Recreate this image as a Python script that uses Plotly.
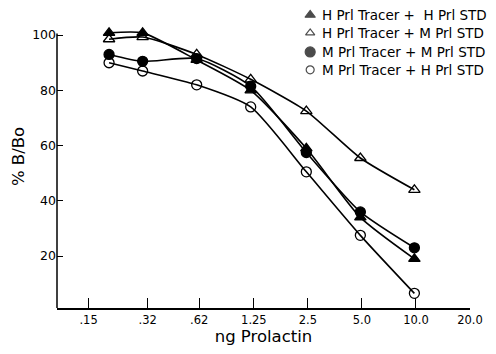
import plotly.graph_objects as go

dose = [0.195, 0.30, 0.60, 1.2, 2.45, 4.9, 9.8]
hh = [100.8, 100.8, 91, 80, 59, 34, 19]
hm = [98.5, 99.3, 93, 84, 72.5, 55.5, 44]
mm = [93, 90.5, 91.5, 81.5, 57.5, 36, 23]
mh = [90, 87, 82, 74, 50.5, 27.5, 6.5]

names = ["H Prl Tracer +  H Prl STD", "H Prl Tracer + M Prl STD",
         "M Prl Tracer + M Prl STD", "M Prl Tracer + H Prl STD"]
series = [hh, hm, mm, mh]
symbols = ["triangle-up", "triangle-up-open", "circle", "circle-open"]

tick_vals = [0.15, 0.32, 0.62, 1.25, 2.5, 5.0, 10.0, 20.0]
tick_text = [".15", ".32", ".62", "1.25", "2.5", "5.0", "10.0", "20.0"]
ytick_vals = [20, 40, 60, 80, 100]

# legend layout (fractions of the plot area)
leg_rows = [0.967, 0.908, 0.845, 0.786]
leg_mark_x = 0.613
leg_text_x = 0.636

fig = go.Figure()
for ys, sym in zip(series, symbols):
    fig.add_trace(go.Scatter(
        x=dose, y=ys, mode="lines+markers",
        line=dict(color="black", width=1.6, shape="spline", smoothing=0.6),
        marker=dict(symbol=sym, size=10, color="black",
                    line=dict(color="black", width=1.3)),
        showlegend=False, cliponaxis=False))

fig.add_trace(go.Scatter(
    x=[leg_mark_x] * 4, y=leg_rows, mode="markers",
    xaxis="x2", yaxis="y2",
    marker=dict(symbol=symbols, size=[9, 8, 10, 8], color="black",
                line=dict(color="black", width=1.2)),
    showlegend=False, cliponaxis=False, hoverinfo="skip"))

for nm, yy in zip(names, leg_rows):
    fig.add_annotation(x=leg_text_x, y=yy, xref="paper", yref="paper",
                       text=nm, showarrow=False, xanchor="left", yanchor="middle",
                       font=dict(size=13.5))

# y axis line only up to 100
fig.add_shape(type="line", xref="paper", x0=0, x1=0, yref="y", y0=1.2, y1=100.6,
              line=dict(color="black", width=1.5))

fig.update_layout(
    width=496, height=354,
    margin=dict(l=57, r=26, t=5, b=46),
    paper_bgcolor="white", plot_bgcolor="white",
    font=dict(family="DejaVu Sans, sans-serif", color="black", size=12),
    showlegend=False,
    xaxis=dict(type="log", range=[-1, 1.30103], tickvals=tick_vals,
               ticktext=tick_text, ticks="inside", ticklen=10, tickwidth=1.3,
               tickcolor="black", showline=True, linecolor="black", linewidth=1.5,
               showgrid=False, zeroline=False, tickfont=dict(size=11.5),
               title=dict(text="ng Prolactin", font=dict(size=16.5), standoff=5)),
    yaxis=dict(range=[1.2, 110.9], tickvals=ytick_vals, ticks="inside",
               ticklen=6, tickwidth=1.3, tickcolor="black", showline=False,
               showgrid=False, zeroline=False,
               tickfont=dict(size=12.5),
               title=dict(text="% B/Bo", font=dict(size=16.5), standoff=3)),
    xaxis2=dict(overlaying="x", range=[0, 1], visible=False),
    yaxis2=dict(overlaying="y", range=[0, 1], visible=False),
)

fig.write_html("out.html")
